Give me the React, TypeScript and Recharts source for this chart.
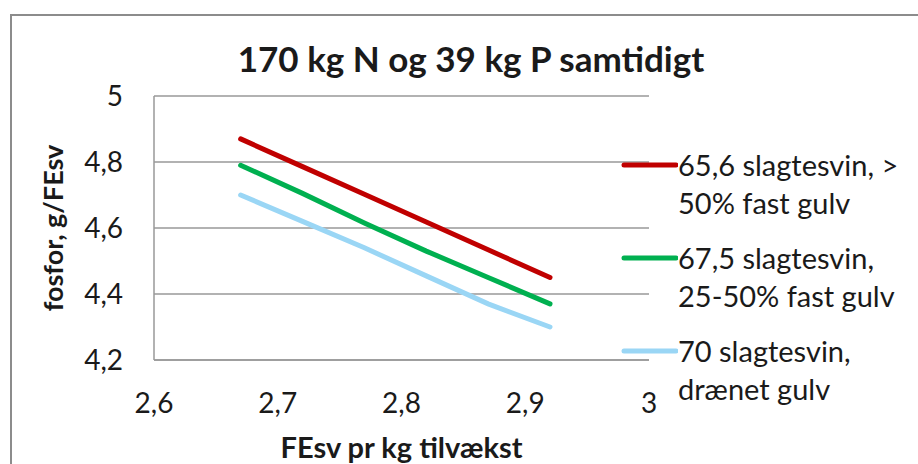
import React from 'react';
import { LineChart, Line, XAxis, YAxis, CartesianGrid } from 'recharts';

const feedPerKg = [2.67, 2.72, 2.77, 2.82, 2.87, 2.92];
const pigs656 = [4.87, 4.786, 4.702, 4.618, 4.534, 4.45];
const pigs675 = [4.79, 4.705, 4.615, 4.53, 4.45, 4.37];
const pigs70 = [4.7, 4.62, 4.54, 4.455, 4.37, 4.3];

const xTicks = [2.6, 2.7, 2.8, 2.9, 3];
const yTicks = [4.2, 4.4, 4.6, 4.8, 5];

const seriesKeys = ['a', 'b', 'c'];
const seriesNames = [
  '65,6 slagtesvin, >\n50% fast gulv',
  '67,5 slagtesvin,\n25-50% fast gulv',
  '70 slagtesvin,\ndrænet gulv',
];
const seriesColors = ['#C00000', '#00B050', '#9AD6F5'];

const data = feedPerKg.map((x, i) => ({
  x,
  a: pigs656[i],
  b: pigs675[i],
  c: pigs70[i],
}));

const FONT = 'Lato, "Open Sans", sans-serif';
const comma = (v: number) => String(v).replace('.', ',');

// legend drawn beside the chart so it doesn't eat plot width
function SideLegend() {
  return (
    <div style={{ position: 'absolute', left: 620, top: 146, fontFamily: FONT, fontSize: 29, color: '#1a1a1a' }}>
      {seriesNames.map((name, i) => (
        <div key={name} style={{ display: 'flex', alignItems: 'flex-start', marginBottom: 17 }}>
          <svg width={58} height={38} style={{ flex: 'none' }}>
            <line x1={4} x2={56} y1={19} y2={19} stroke={seriesColors[i]} strokeWidth={5} strokeLinecap="round" />
          </svg>
          <div style={{ whiteSpace: 'pre-line', lineHeight: '38px' }}>{name}</div>
        </div>
      ))}
    </div>
  );
}

export default function App() {
  return (
    <div style={{ position: 'absolute', left: 0, top: 0, width: 918, height: 464, overflow: 'hidden', background: '#fff' }}>
      <div
        style={{
          position: 'absolute',
          left: 10,
          top: 14,
          width: 940,
          height: 480,
          borderTop: '2px solid #8c8c8c',
          borderLeft: '2px solid #8c8c8c',
        }}
      />
      <LineChart
        width={918}
        height={464}
        data={data}
        margin={{ top: 96, right: 269, left: 0, bottom: 44 }}
        style={{ position: 'absolute', left: 0, top: 0, fontFamily: FONT }}
      >
        <CartesianGrid vertical={false} stroke="#999" strokeWidth={1.5} />
        <XAxis
          dataKey="x"
          type="number"
          domain={[2.6, 3]}
          ticks={xTicks}
          tickFormatter={comma}
          height={60}
          tickLine={false}
          tickSize={0}
          tickMargin={33}
          axisLine={{ stroke: '#999', strokeWidth: 1.5 }}
          tick={{ fill: '#1a1a1a', fontSize: 28 }}
          label={{
            content: ({ viewBox }: any) => (
              <text
                x={viewBox.x + viewBox.width / 2}
                y={viewBox.y + 98}
                textAnchor="middle"
                fontWeight="bold"
                fontSize={29}
                fill="#1a1a1a"
              >
                FEsv pr kg tilvækst
              </text>
            ),
          }}
        />
        <YAxis
          type="number"
          domain={[4.2, 5]}
          ticks={yTicks}
          tickFormatter={comma}
          width={154}
          tickLine={false}
          tickSize={0}
          tickMargin={31}
          axisLine={{ stroke: '#999', strokeWidth: 1.5 }}
          tick={{ fill: '#1a1a1a', fontSize: 28 }}
          label={{
            content: ({ viewBox }: any) => {
              const cy = viewBox.y + viewBox.height / 2;
              return (
                <text
                  x={63}
                  y={cy}
                  transform={`rotate(-90, 63, ${cy})`}
                  textAnchor="middle"
                  fontWeight="bold"
                  fontSize={27}
                  fill="#1a1a1a"
                >
                  fosfor, g/FEsv
                </text>
              );
            },
          }}
        />
        {seriesKeys.map((k, i) => (
          <Line
            key={k}
            dataKey={k}
            name={seriesNames[i]}
            stroke={seriesColors[i]}
            strokeWidth={5}
            strokeLinecap="round"
            dot={false}
            isAnimationActive={false}
          />
        ))}
      </LineChart>
      <SideLegend />
      <svg width={918} height={464} style={{ position: 'absolute', left: 0, top: 0, pointerEvents: 'none' }}>
        <text x={471} y={72} textAnchor="middle" fontFamily={FONT} fontWeight="bold" fontSize={35} fill="#1a1a1a">
          170 kg N og 39 kg P samtidigt
        </text>
      </svg>
    </div>
  );
}
